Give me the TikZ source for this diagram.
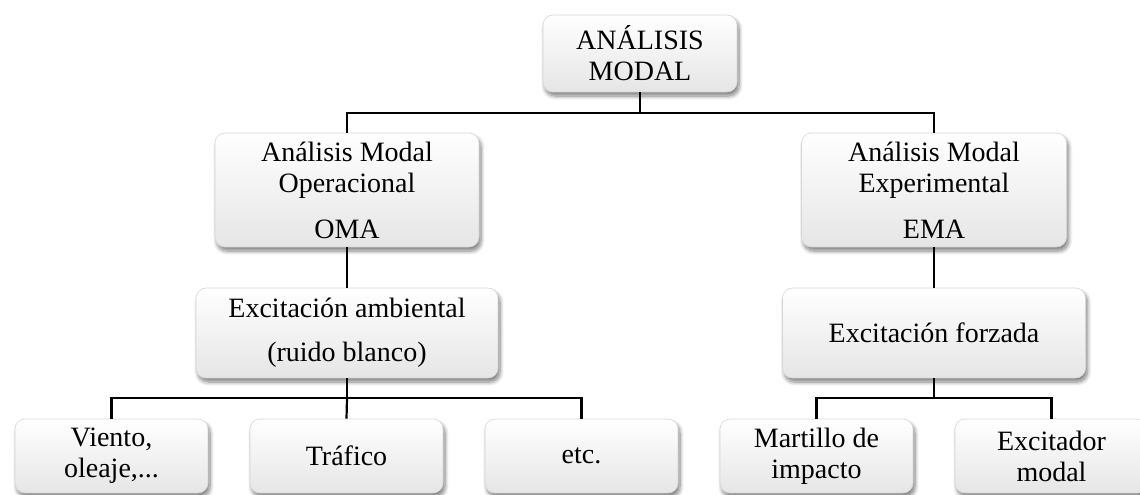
\documentclass[tikz,border=0pt]{standalone}
\usepackage{fontspec}
\setmainfont{Liberation Serif}
\usetikzlibrary{shadows.blur}
\begin{document}
\begin{tikzpicture}[x=1pt,y=-1pt,
  box/.style={draw=black!16, line width=0.6pt, rounded corners=10pt,
    top color=white, bottom color=black!10, inner sep=0pt, align=center,
    font=\fontsize{28}{31}\selectfont,
    blur shadow={shadow xshift=2pt, shadow yshift=-4pt,
      shadow blur radius=4pt, shadow blur steps=8, shadow opacity=50}},
  link/.style={line width=2.2pt, black}]
\useasboundingbox (0,0) rectangle (1140,495);

% level 0
\node[box, minimum width=194pt, minimum height=77pt] (top) at (640,53.5) {ANÁLISIS\\MODAL};
% level 1
\node[box, minimum width=264pt, minimum height=114pt] (oma) at (347,190)
  {Análisis Modal\\Operacional\\[15pt]OMA};
\node[box, minimum width=265pt, minimum height=114pt] (ema) at (934,190)
  {Análisis Modal\\Experimental\\[15pt]EMA};
% level 2
\node[box, minimum width=302pt, minimum height=90pt] (amb) at (347,333)
  {Excitación ambiental\\[13pt](ruido blanco)};
\node[box, minimum width=303pt, minimum height=90pt] (forz) at (934,333)
  {Excitación forzada};
% level 3
\foreach \n/\x/\t in {vien/111.5/{Viento,\\oleaje,...}, traf/346.5/{Tráfico},
    etc/581.5/{etc.}, mart/816.5/{Martillo de\\impacto}, exc/1051.5/{Excitador\\modal}}
  \node[box, minimum width=193pt, minimum height=74pt] (\n) at (\x,456) {\t};

% connectors
\draw[link] (top.south) -- ++(0,21) coordinate (bus0) -| (oma.north);
\draw[link] (bus0) -| (ema.north);
\draw[link] (oma.south) -- (amb.north);
\draw[link] (ema.south) -- (forz.north);
\draw[link] (amb.south) -- ++(0,20) coordinate (busA) -| (vien.north);
\draw[link] (busA) -- (traf.north);
\draw[link] (busA) -| (etc.north);
\draw[link] (forz.south) -- ++(0,20) coordinate (busF) -| (mart.north);
\draw[link] (busF) -| (exc.north);
\end{tikzpicture}
\end{document}
